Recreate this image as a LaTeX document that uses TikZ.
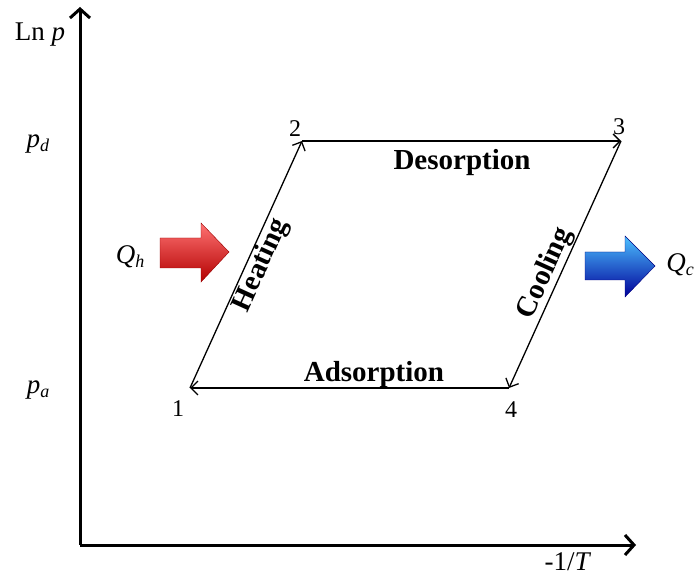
\documentclass[tikz,border=0pt]{standalone}
\usepackage{fontspec}
\setmainfont{Liberation Serif}
\usetikzlibrary{arrows.meta,calc}
\begin{document}
\begin{tikzpicture}[x=1pt,y=1pt,
  axis/.style={line width=3pt,-{Straight Barb[length=9pt,width=20pt,line width=3pt]}},
  cyc/.style={line width=1.3pt,-{Straight Barb[length=7pt,width=14pt,line width=1.3pt]},shorten >=0pt},
  lbl/.style={font=\fontsize{29}{32}\selectfont\bfseries,inner sep=1pt},
  num/.style={font=\fontsize{24}{26}\selectfont,inner sep=0pt},
  ax/.style={font=\fontsize{27}{30}\selectfont,inner sep=0pt}]
\useasboundingbox (0,0) rectangle (698,581);
% axes
\coordinate (O) at (80,36);
\coordinate (Yt) at (80,574);
\coordinate (Xt) at (636,36);
\draw[axis] (O) -- (Yt);
\draw[axis] (O) -- (Xt);
% cycle points
\coordinate (P1) at (190,193);
\coordinate (P2) at (302,440);
\coordinate (P3) at (621,440);
\coordinate (P4) at (509,193);
\draw[cyc] (P1) -- (P2);
\draw[cyc] (P2) -- (P3);
\draw[cyc] (P3) -- (P4);
\draw[cyc] (P4) -- (P1);
% numbers
\node[num] (n1) at (178,172) {1};
\node[num] (n2) at (295,452) {2};
\node[num] (n3) at (619,454) {3};
\node[num] (n4) at (511,171) {4};
% process labels
\node[lbl] (des) at (462,418) {Desorption};
\node[lbl] (ads) at (374,206) {Adsorption};
\node[lbl,rotate=65.6,anchor=north] (heat) at ($(P1)!0.52!(P2)$) {Heating};
\node[lbl,rotate=65.6,anchor=south] (cool) at ($(P4)!0.44!(P3)$) {Cooling};
% axis labels
\node[ax] (lnp) at (40,546) {Ln \textit{p}};
\node[ax] (pd) at (38,437) {\textit{p}\raisebox{-4pt}{\fontsize{18}{20}\selectfont\textit{d}}};
\node[ax] (pa) at (38,191) {\textit{p}\raisebox{-4pt}{\fontsize{18}{20}\selectfont\textit{a}}};
\node[ax] (T) at (568,19) {-1/\textit{T}};
\node[ax] (Qh) at (130,324) {\textit{Q}\raisebox{-4pt}{\fontsize{18}{20}\selectfont\textit{h}}};
\node[ax] (Qc) at (680,316) {\textit{Q}\raisebox{-4pt}{\fontsize{18}{20}\selectfont\textit{c}}};
% heat arrows
\shade[top color=red!55!white, bottom color=red!70!black, draw=red!60!black, line width=0.4pt]
  (160,343) -- (201,343) -- (201,358) -- (229,329) -- (201,299) -- (201,313) -- (160,313) -- cycle;
\shade[top color=blue!35!cyan!70!white, bottom color=blue!60!black, draw=blue!50!black, line width=0.4pt]
  (585,329) -- (625,329) -- (625,345) -- (655,315) -- (625,284) -- (625,301) -- (585,301) -- cycle;
\end{tikzpicture}
\end{document}
